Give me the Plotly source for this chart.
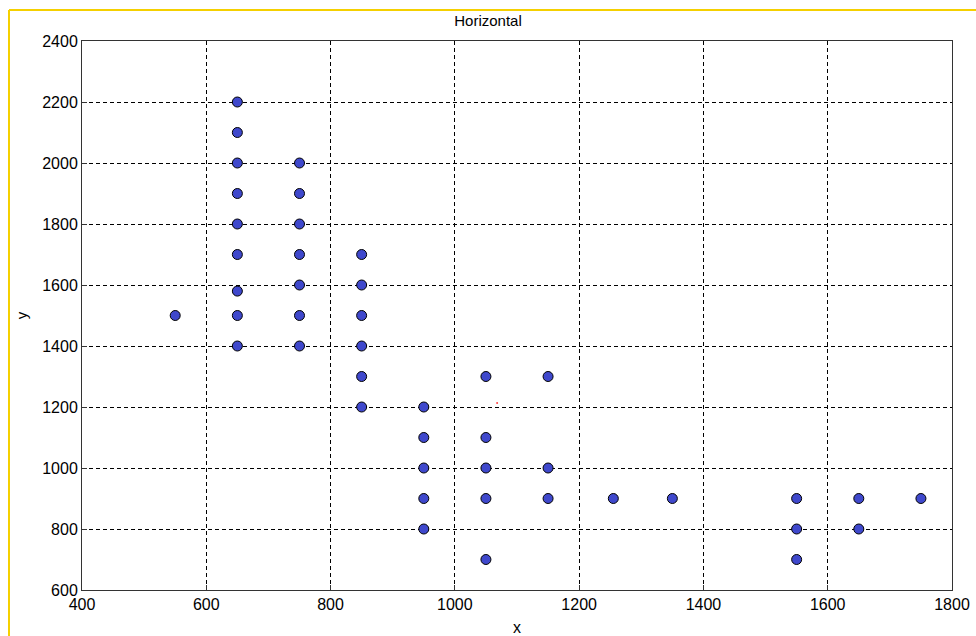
import plotly.graph_objects as go

# data: points
xs = [550,
      650, 650, 650, 650, 650, 650, 650, 650, 650,
      750, 750, 750, 750, 750, 750, 750,
      850, 850, 850, 850, 850, 850,
      950, 950, 950, 950, 950,
      1050, 1050, 1050, 1050, 1050,
      1150, 1150, 1150,
      1255, 1350,
      1550, 1550, 1550,
      1650, 1650,
      1750]
ys = [1500,
      2200, 2100, 2000, 1900, 1800, 1700, 1580, 1500, 1400,
      2000, 1900, 1800, 1700, 1600, 1500, 1400,
      1700, 1600, 1500, 1400, 1300, 1200,
      1200, 1100, 1000, 900, 800,
      1300, 1100, 1000, 900, 700,
      1300, 1000, 900,
      900, 900,
      900, 800, 700,
      900, 800,
      900]
red_x = [1068]
red_y = [1213]

x_ticks = [400, 600, 800, 1000, 1200, 1400, 1600, 1800]
y_ticks = [600, 800, 1000, 1200, 1400, 1600, 1800, 2000, 2200, 2400]

FONT = "Liberation Sans, Arial"

fig = go.Figure()
fig.add_trace(go.Scatter(x=xs, y=ys, mode="markers",
                         marker=dict(size=10, color="#3F48CC",
                                     line=dict(color="black", width=1)),
                         showlegend=False, hoverinfo="skip"))
fig.add_trace(go.Scatter(x=red_x, y=red_y, mode="markers",
                         marker=dict(size=2, color="#FF4040"),
                         showlegend=False, hoverinfo="skip"))

axis_common = dict(showgrid=True, gridcolor="black", gridwidth=1, griddash="4px,3px",
                   showline=True, linecolor="#333333", linewidth=1, mirror=True,
                   ticks="inside", ticklen=5, tickcolor="#333333", automargin=False,
                   zeroline=False, tickfont=dict(family=FONT, size=16, color="black"))

fig.update_xaxes(range=[400, 1800], tickvals=x_ticks, title=dict(text="x", standoff=10,
                 font=dict(family=FONT, size=16, color="black")), **axis_common)
fig.update_yaxes(range=[600, 2400], tickvals=y_ticks, title=dict(text="y", standoff=10,
                 font=dict(family=FONT, size=15, color="black")), **axis_common)

fig.update_layout(
    width=976, height=636,
    margin=dict(l=82, r=24, t=41, b=46),
    paper_bgcolor="white", plot_bgcolor="white",
    title=dict(text="Horizontal", x=0.5, xanchor="center", y=1 - 21/636, yanchor="middle",
               font=dict(family=FONT, size=15, color="black")),
    shapes=[
        dict(type="line", xref="paper", yref="paper", x0=-73/870, x1=-73/870,
             y0=(590-10)/549, y1=(590-640)/549, line=dict(color="#F5D000", width=2)),
        dict(type="line", xref="paper", yref="paper", x0=-73/870, x1=(980-82)/870,
             y0=(590-10)/549, y1=(590-10)/549, line=dict(color="#F5D000", width=2)),
    ],
)

fig.write_html("out.html")
